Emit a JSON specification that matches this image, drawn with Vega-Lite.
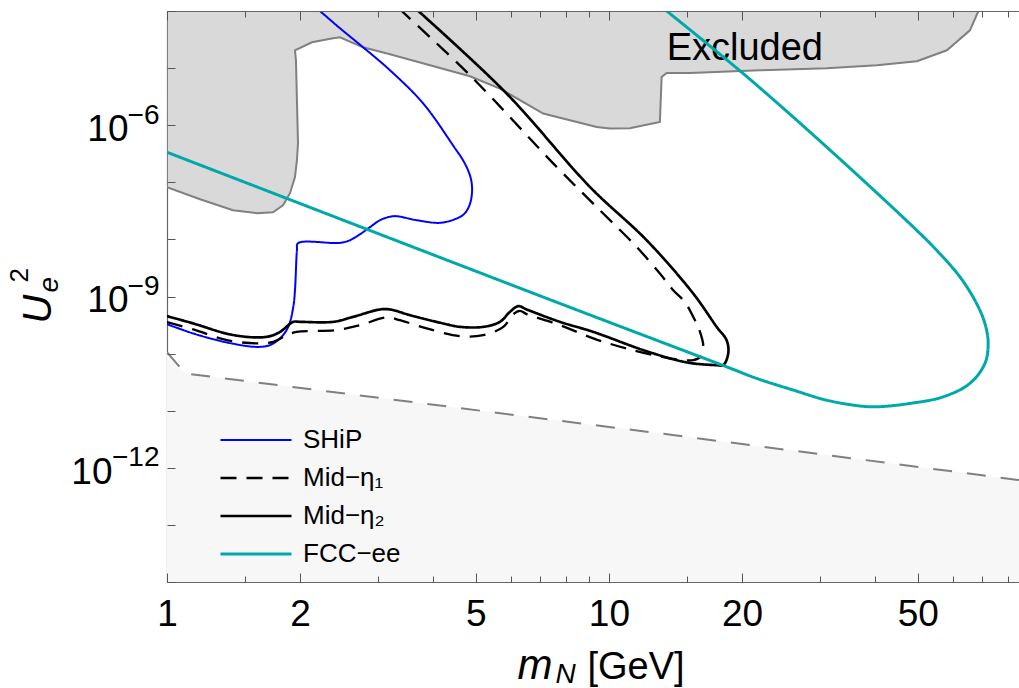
{
  "$schema": "https://vega.github.io/schema/vega-lite/v6.json",
  "autosize": {"type": "none"},
  "padding": {"left": 167, "top": 11, "right": 0, "bottom": 106},
  "width": 852,
  "height": 571,
  "background": "white",
  "config": {"view": {"stroke": null}, "font": "Liberation Sans"},
  "datasets": {
    "low": [
      {"m": 1, "u": 1.06e-10},
      {"m": 1.1, "u": 4.5e-11},
      {"m": 13.04, "u": 4.01e-12},
      {"m": 84.7, "u": 6.1e-13}
    ],
    "excl": [
      {"i": 0, "m": 1, "u": 1e-4},
      {"i": 1, "m": 1, "u": 8.2e-8},
      {"i": 2, "m": 1.188, "u": 5.06e-8},
      {"i": 3, "m": 1.41, "u": 3.24e-8},
      {"i": 4, "m": 1.598, "u": 2.88e-8},
      {"i": 5, "m": 1.737, "u": 2.99e-8},
      {"i": 6, "m": 1.83, "u": 3.97e-8},
      {"i": 7, "m": 1.898, "u": 6.44e-8},
      {"i": 8, "m": 1.948, "u": 1.23e-7},
      {"i": 9, "m": 1.968, "u": 2.44e-7},
      {"i": 10, "m": 1.979, "u": 4.83e-7},
      {"i": 11, "m": 1.968, "u": 2.74e-6},
      {"i": 12, "m": 1.958, "u": 1.37e-5},
      {"i": 13, "m": 1.948, "u": 2.05e-5},
      {"i": 14, "m": 2.128, "u": 2.83e-5},
      {"i": 15, "m": 2.375, "u": 3.33e-5},
      {"i": 16, "m": 2.463, "u": 3.47e-5},
      {"i": 17, "m": 2.777, "u": 2.31e-5},
      {"i": 18, "m": 3.196, "u": 1.75e-5},
      {"i": 19, "m": 4.848, "u": 7.19e-6},
      {"i": 20, "m": 5.667, "u": 4.38e-6},
      {"i": 21, "m": 7.102, "u": 1.6e-6},
      {"i": 22, "m": 9.38, "u": 9.33e-7},
      {"i": 23, "m": 10.05, "u": 8.75e-7},
      {"i": 24, "m": 11.15, "u": 8.85e-7},
      {"i": 25, "m": 13.04, "u": 1.14e-6},
      {"i": 26, "m": 13.16, "u": 7.0e-6},
      {"i": 27, "m": 13.51, "u": 8.22e-6},
      {"i": 28, "m": 15.26, "u": 8.22e-6},
      {"i": 29, "m": 21.96, "u": 9.16e-6},
      {"i": 30, "m": 31.12, "u": 9.93e-6},
      {"i": 31, "m": 40.4, "u": 1.12e-5},
      {"i": 32, "m": 49.76, "u": 1.32e-5},
      {"i": 33, "m": 58.18, "u": 2.05e-5},
      {"i": 34, "m": 65.58, "u": 4.59e-5},
      {"i": 35, "m": 68.37, "u": 9.48e-5},
      {"i": 36, "m": 68.7, "u": 1e-4}
    ],
    "curves": [
      {"s": "SHiP", "i": 0, "m": 1, "u": 3.28e-10},
      {"s": "SHiP", "i": 1, "m": 1.147, "u": 2.25e-10},
      {"s": "SHiP", "i": 2, "m": 1.365, "u": 1.57e-10},
      {"s": "SHiP", "i": 3, "m": 1.596, "u": 1.31e-10},
      {"s": "SHiP", "i": 4, "m": 1.71, "u": 1.41e-10},
      {"s": "SHiP", "i": 5, "m": 1.802, "u": 1.85e-10},
      {"s": "SHiP", "i": 6, "m": 1.881, "u": 2.94e-10},
      {"s": "SHiP", "i": 7, "m": 1.931, "u": 6.59e-10},
      {"s": "SHiP", "i": 8, "m": 1.948, "u": 1.29e-9},
      {"s": "SHiP", "i": 9, "m": 1.968, "u": 6.48e-9},
      {"s": "SHiP", "i": 10, "m": 1.979, "u": 8.59e-9},
      {"s": "SHiP", "i": 11, "m": 2.463, "u": 8.69e-9},
      {"s": "SHiP", "i": 12, "m": 2.594, "u": 9.68e-9},
      {"s": "SHiP", "i": 13, "m": 2.733, "u": 1.23e-8},
      {"s": "SHiP", "i": 14, "m": 2.88, "u": 1.64e-8},
      {"s": "SHiP", "i": 15, "m": 3.033, "u": 2.17e-8},
      {"s": "SHiP", "i": 16, "m": 3.196, "u": 2.5e-8},
      {"s": "SHiP", "i": 17, "m": 3.31, "u": 2.55e-8},
      {"s": "SHiP", "i": 18, "m": 3.672, "u": 2.17e-8},
      {"s": "SHiP", "i": 19, "m": 4.147, "u": 1.95e-8},
      {"s": "SHiP", "i": 20, "m": 4.483, "u": 2.26e-8},
      {"s": "SHiP", "i": 21, "m": 4.697, "u": 2.76e-8},
      {"s": "SHiP", "i": 22, "m": 4.836, "u": 3.97e-8},
      {"s": "SHiP", "i": 23, "m": 4.898, "u": 6.44e-8},
      {"s": "SHiP", "i": 24, "m": 4.885, "u": 1.04e-7},
      {"s": "SHiP", "i": 25, "m": 4.81, "u": 1.56e-7},
      {"s": "SHiP", "i": 26, "m": 4.675, "u": 2.44e-7},
      {"s": "SHiP", "i": 27, "m": 4.483, "u": 3.95e-7},
      {"s": "SHiP", "i": 28, "m": 3.802, "u": 2.39e-6},
      {"s": "SHiP", "i": 29, "m": 3.196, "u": 9.16e-6},
      {"s": "SHiP", "i": 30, "m": 2.777, "u": 2.32e-5},
      {"s": "SHiP", "i": 31, "m": 2.463, "u": 4.98e-5},
      {"s": "SHiP", "i": 32, "m": 2.219, "u": 1e-4},
      {"s": "Mid−η₁", "i": 0, "m": 1, "u": 3.56e-10},
      {"s": "Mid−η₁", "i": 1, "m": 1.147, "u": 2.65e-10},
      {"s": "Mid−η₁", "i": 2, "m": 1.365, "u": 1.72e-10},
      {"s": "Mid−η₁", "i": 3, "m": 1.596, "u": 1.51e-10},
      {"s": "Mid−η₁", "i": 4, "m": 1.74, "u": 1.61e-10},
      {"s": "Mid−η₁", "i": 5, "m": 1.865, "u": 2.1e-10},
      {"s": "Mid−η₁", "i": 6, "m": 1.965, "u": 2.4e-10},
      {"s": "Mid−η₁", "i": 7, "m": 2.42, "u": 2.58e-10},
      {"s": "Mid−η₁", "i": 8, "m": 2.733, "u": 3.15e-10},
      {"s": "Mid−η₁", "i": 9, "m": 3.142, "u": 4.3e-10},
      {"s": "Mid−η₁", "i": 10, "m": 3.366, "u": 3.85e-10},
      {"s": "Mid−η₁", "i": 11, "m": 3.869, "u": 2.76e-10},
      {"s": "Mid−η₁", "i": 12, "m": 4.602, "u": 2.02e-10},
      {"s": "Mid−η₁", "i": 13, "m": 5.195, "u": 2.1e-10},
      {"s": "Mid−η₁", "i": 14, "m": 5.767, "u": 2.94e-10},
      {"s": "Mid−η₁", "i": 15, "m": 6.075, "u": 4.91e-10},
      {"s": "Mid−η₁", "i": 16, "m": 6.29, "u": 5.61e-10},
      {"s": "Mid−η₁", "i": 17, "m": 6.513, "u": 4.91e-10},
      {"s": "Mid−η₁", "i": 18, "m": 7.746, "u": 3.15e-10},
      {"s": "Mid−η₁", "i": 19, "m": 9.215, "u": 1.85e-10},
      {"s": "Mid−η₁", "i": 20, "m": 10.96, "u": 1.23e-10},
      {"s": "Mid−η₁", "i": 21, "m": 14.23, "u": 7.91e-11},
      {"s": "Mid−η₁", "i": 22, "m": 15.51, "u": 7.69e-11},
      {"s": "Mid−η₁", "i": 23, "m": 16.07, "u": 8.67e-11},
      {"s": "Mid−η₁", "i": 24, "m": 16.35, "u": 1.31e-10},
      {"s": "Mid−η₁", "i": 25, "m": 15.92, "u": 2.94e-10},
      {"s": "Mid−η₁", "i": 26, "m": 15.51, "u": 4.41e-10},
      {"s": "Mid−η₁", "i": 27, "m": 14.86, "u": 7.96e-10},
      {"s": "Mid−η₁", "i": 28, "m": 13.98, "u": 1.29e-9},
      {"s": "Mid−η₁", "i": 29, "m": 13.04, "u": 2.53e-9},
      {"s": "Mid−η₁", "i": 30, "m": 11.55, "u": 7.4e-9},
      {"s": "Mid−η₁", "i": 31, "m": 9.707, "u": 2.84e-8},
      {"s": "Mid−η₁", "i": 32, "m": 7.615, "u": 1.86e-7},
      {"s": "Mid−η₁", "i": 33, "m": 4.848, "u": 7.48e-6},
      {"s": "Mid−η₁", "i": 34, "m": 3.396, "u": 1e-4},
      {"s": "Mid−η₂", "i": 0, "m": 1, "u": 4.53e-10},
      {"s": "Mid−η₂", "i": 1, "m": 1.147, "u": 3.37e-10},
      {"s": "Mid−η₂", "i": 2, "m": 1.388, "u": 2.17e-10},
      {"s": "Mid−η₂", "i": 3, "m": 1.596, "u": 1.92e-10},
      {"s": "Mid−η₂", "i": 4, "m": 1.71, "u": 2.02e-10},
      {"s": "Mid−η₂", "i": 5, "m": 1.802, "u": 2.4e-10},
      {"s": "Mid−η₂", "i": 6, "m": 1.931, "u": 3.6e-10},
      {"s": "Mid−η₂", "i": 7, "m": 2.0, "u": 3.6e-10},
      {"s": "Mid−η₂", "i": 8, "m": 2.378, "u": 3.6e-10},
      {"s": "Mid−η₂", "i": 9, "m": 2.64, "u": 4.41e-10},
      {"s": "Mid−η₂", "i": 10, "m": 3.033, "u": 5.93e-10},
      {"s": "Mid−η₂", "i": 11, "m": 3.196, "u": 5.93e-10},
      {"s": "Mid−η₂", "i": 12, "m": 3.546, "u": 4.72e-10},
      {"s": "Mid−η₂", "i": 13, "m": 4.219, "u": 3.37e-10},
      {"s": "Mid−η₂", "i": 14, "m": 4.602, "u": 2.94e-10},
      {"s": "Mid−η₂", "i": 15, "m": 5.195, "u": 2.94e-10},
      {"s": "Mid−η₂", "i": 16, "m": 5.667, "u": 3.6e-10},
      {"s": "Mid−η₂", "i": 17, "m": 5.97, "u": 5.38e-10},
      {"s": "Mid−η₂", "i": 18, "m": 6.234, "u": 6.78e-10},
      {"s": "Mid−η₂", "i": 19, "m": 6.513, "u": 5.93e-10},
      {"s": "Mid−η₂", "i": 20, "m": 7.746, "u": 3.6e-10},
      {"s": "Mid−η₂", "i": 21, "m": 9.215, "u": 2.4e-10},
      {"s": "Mid−η₂", "i": 22, "m": 11.96, "u": 1.15e-10},
      {"s": "Mid−η₂", "i": 23, "m": 14.23, "u": 7.69e-11},
      {"s": "Mid−η₂", "i": 24, "m": 15.51, "u": 6.73e-11},
      {"s": "Mid−η₂", "i": 25, "m": 17.53, "u": 6.28e-11},
      {"s": "Mid−η₂", "i": 26, "m": 18.14, "u": 6.28e-11},
      {"s": "Mid−η₂", "i": 27, "m": 18.62, "u": 1.01e-10},
      {"s": "Mid−η₂", "i": 28, "m": 18.46, "u": 1.72e-10},
      {"s": "Mid−η₂", "i": 29, "m": 17.53, "u": 2.94e-10},
      {"s": "Mid−η₂", "i": 30, "m": 15.51, "u": 1.13e-9},
      {"s": "Mid−η₂", "i": 31, "m": 12.17, "u": 9.68e-9},
      {"s": "Mid−η₂", "i": 32, "m": 9.057, "u": 8.3e-8},
      {"s": "Mid−η₂", "i": 33, "m": 5.869, "u": 3.58e-6},
      {"s": "Mid−η₂", "i": 34, "m": 3.704, "u": 1e-4},
      {"s": "FCC−ee", "i": 0, "m": 1, "u": 3.36e-7},
      {"s": "FCC−ee", "i": 1, "m": 7.746, "u": 7.55e-10},
      {"s": "FCC−ee", "i": 2, "m": 18.46, "u": 5.87e-11},
      {"s": "FCC−ee", "i": 3, "m": 21.59, "u": 3.68e-11},
      {"s": "FCC−ee", "i": 4, "m": 26.12, "u": 2.3e-11},
      {"s": "FCC−ee", "i": 5, "m": 31.08, "u": 1.53e-11},
      {"s": "FCC−ee", "i": 6, "m": 36.98, "u": 1.21e-11},
      {"s": "FCC−ee", "i": 7, "m": 40.35, "u": 1.17e-11},
      {"s": "FCC−ee", "i": 8, "m": 47.98, "u": 1.34e-11},
      {"s": "FCC−ee", "i": 9, "m": 57.06, "u": 1.75e-11},
      {"s": "FCC−ee", "i": 10, "m": 65.58, "u": 3.01e-11},
      {"s": "FCC−ee", "i": 11, "m": 70.92, "u": 6.73e-11},
      {"s": "FCC−ee", "i": 12, "m": 72.13, "u": 1.51e-10},
      {"s": "FCC−ee", "i": 13, "m": 70.92, "u": 3.37e-10},
      {"s": "FCC−ee", "i": 14, "m": 67.91, "u": 7.55e-10},
      {"s": "FCC−ee", "i": 15, "m": 62.25, "u": 2.21e-9},
      {"s": "FCC−ee", "i": 16, "m": 55.13, "u": 6.47e-9},
      {"s": "FCC−ee", "i": 17, "m": 49.68, "u": 1.45e-8},
      {"s": "FCC−ee", "i": 18, "m": 31.08, "u": 4.16e-7},
      {"s": "FCC−ee", "i": 19, "m": 20.13, "u": 8.02e-6},
      {"s": "FCC−ee", "i": 20, "m": 13.51, "u": 1e-4}
    ],
    "labels": [
      {"m": 13.51, "u": 1.37e-5, "label": "Excluded"}
    ]
  },
  "resolve": {"axis": {"x": "independent", "y": "independent"}},
  "layer": [
    {
      "data": {"name": "low"},
      "mark": {"type": "area", "color": "#f7f7f7", "clip": true},
      "encoding": {
        "x": {
          "field": "m", "type": "quantitative",
          "scale": {"type": "log", "domain": [1, 84.7], "nice": false},
          "axis": {
            "orient": "bottom", "values": [1, 2, 5, 10, 20, 50], "format": "~g",
            "ticks": false, "domain": true, "domainColor": "#666666", "domainWidth": 1.2,
            "grid": false, "labelFontSize": 37, "labelFont": "Liberation Sans", "labelColor": "black",
            "labelPadding": 43, "labelBaseline": "alphabetic", "labelFlush": false, "labelOverlap": false,
            "title": "m", "titleFont": "Liberation Sans", "titleFontSize": 42, "titleFontStyle": "italic",
            "titleFontWeight": "normal", "titleColor": "black", "titleX": 350, "titleY": 96,
            "titleAlign": "left", "titleBaseline": "alphabetic", "titleAngle": 0
          }
        },
        "y": {
          "field": "u", "type": "quantitative",
          "scale": {"type": "log", "domain": [1e-14, 1e-4], "nice": false},
          "axis": {
            "orient": "left", "values": [1e-6, 1e-9], "labelExpr": "'10'",
            "ticks": false, "domain": true, "domainColor": "#666666", "domainWidth": 1.2,
            "grid": false, "labelFontSize": 37, "labelFont": "Liberation Sans", "labelColor": "black",
            "labelPadding": 39, "labelBaseline": "alphabetic", "labelOffset": 15, "labelAlign": "right",
            "labelFlush": false, "labelOverlap": false,
            "title": "U", "titleFont": "Liberation Sans", "titleFontSize": 40, "titleFontStyle": "italic",
            "titleFontWeight": "normal", "titleColor": "black", "titleX": -117, "titleY": 312,
            "titleAlign": "left", "titleBaseline": "alphabetic", "titleAngle": 270
          }
        },
        "y2": {"datum": 1e-14}
      }
    },
    {
      "data": {"name": "low"},
      "mark": {"type": "line", "color": "#808080", "strokeWidth": 2, "strokeDash": [19, 15], "clip": true},
      "encoding": {
        "x": {
          "field": "m", "type": "quantitative",
          "scale": {"type": "log", "domain": [1, 84.7], "nice": false},
          "axis": {
            "orient": "bottom", "values": [1, 2, 5, 10, 20, 50], "labels": false, "domain": false,
            "grid": false, "ticks": true, "tickSize": -9, "tickColor": "#555555", "tickWidth": 1, "zindex": 1,
            "title": "N", "titleFont": "Liberation Sans", "titleFontSize": 28, "titleFontStyle": "italic",
            "titleFontWeight": "normal", "titleColor": "black", "titleX": 388, "titleY": 100,
            "titleAlign": "left", "titleBaseline": "alphabetic", "titleAngle": 0
          }
        },
        "y": {
          "field": "u", "type": "quantitative",
          "scale": {"type": "log", "domain": [1e-14, 1e-4], "nice": false},
          "axis": {
            "orient": "left", "values": [1e-6, 1e-9, 1e-12],
            "labelExpr": "datum.value < 1e-11 ? '−12' : (datum.value < 1e-8 ? '−9' : '−6')",
            "ticks": false, "domain": false, "grid": false,
            "labelFontSize": 28, "labelFont": "Liberation Sans", "labelColor": "black",
            "labelPadding": 8, "labelBaseline": "alphabetic", "labelOffset": -2, "labelAlign": "right",
            "labelFlush": false, "labelOverlap": false,
            "title": "e", "titleFont": "Liberation Sans", "titleFontSize": 28, "titleFontStyle": "italic",
            "titleFontWeight": "normal", "titleColor": "black", "titleX": -110, "titleY": 281,
            "titleAlign": "left", "titleBaseline": "alphabetic", "titleAngle": 270
          }
        }
      }
    },
    {
      "data": {"name": "excl"},
      "mark": {"type": "line", "fill": "#d9d9d9", "stroke": "#808080", "strokeWidth": 2, "clip": true},
      "encoding": {
        "x": {
          "field": "m", "type": "quantitative",
          "scale": {"type": "log", "domain": [1, 84.7], "nice": false},
          "axis": {
            "orient": "bottom", "values": [1.5, 3, 4, 6, 7, 8, 9, 15, 30, 40, 60, 70, 80],
            "labels": false, "domain": false, "grid": false, "ticks": true, "tickSize": -6,
            "tickColor": "#555555", "tickWidth": 1, "zindex": 1,
            "title": "[GeV]", "titleFont": "Liberation Sans", "titleFontSize": 38, "titleFontStyle": "normal",
            "titleFontWeight": "normal", "titleColor": "black", "titleX": 420, "titleY": 96,
            "titleAlign": "left", "titleBaseline": "alphabetic", "titleAngle": 0
          }
        },
        "y": {
          "field": "u", "type": "quantitative",
          "scale": {"type": "log", "domain": [1e-14, 1e-4], "nice": false},
          "axis": {
            "orient": "left", "values": [1e-14, 1e-13, 1e-12, 1e-11, 1e-10, 1e-9, 1e-8, 1e-7, 1e-6, 1e-5, 1e-4],
            "labels": false, "domain": false, "grid": false, "ticks": true, "tickSize": -8,
            "tickColor": "#555555", "tickWidth": 1, "zindex": 1,
            "title": "2", "titleFont": "Liberation Sans", "titleFontSize": 26, "titleFontStyle": "normal",
            "titleFontWeight": "normal", "titleColor": "black", "titleX": -140, "titleY": 271,
            "titleAlign": "left", "titleBaseline": "alphabetic", "titleAngle": 270
          }
        },
        "order": {"field": "i", "type": "quantitative"}
      }
    },
    {
      "data": {"name": "labels"},
      "mark": {"type": "text", "align": "left", "baseline": "alphabetic", "fontSize": 38, "font": "Liberation Sans", "color": "black"},
      "encoding": {
        "x": {
          "field": "m", "type": "quantitative",
          "scale": {"type": "log", "domain": [1, 84.7], "nice": false},
          "axis": {
            "orient": "top", "values": [1, 2, 5, 10, 20, 50], "labels": false, "domain": true,
            "domainColor": "#666666", "domainWidth": 1.2, "grid": false, "ticks": true, "tickSize": -9,
            "tickColor": "#555555", "tickWidth": 1, "zindex": 1, "title": null
          }
        },
        "y": {
          "field": "u", "type": "quantitative",
          "scale": {"type": "log", "domain": [1e-14, 1e-4], "nice": false},
          "axis": {
            "orient": "left", "values": [1e-12], "labelExpr": "'10'",
            "ticks": false, "domain": false, "grid": false,
            "labelFontSize": 37, "labelFont": "Liberation Sans", "labelColor": "black",
            "labelPadding": 55, "labelBaseline": "alphabetic", "labelOffset": 15.6, "labelAlign": "right",
            "labelFlush": false, "labelOverlap": false, "title": null
          }
        },
        "text": {"field": "label"}
      }
    },
    {
      "data": {"name": "curves"},
      "mark": {"type": "line", "interpolate": "catmull-rom", "clip": true},
      "encoding": {
        "x": {
          "field": "m", "type": "quantitative",
          "scale": {"type": "log", "domain": [1, 84.7], "nice": false},
          "axis": {
            "orient": "top", "values": [1.5, 3, 4, 6, 7, 8, 9, 15, 30, 40, 60, 70, 80],
            "labels": false, "domain": false, "grid": false, "ticks": true, "tickSize": -6,
            "tickColor": "#555555", "tickWidth": 1, "zindex": 1, "title": null
          }
        },
        "y": {
          "field": "u", "type": "quantitative",
          "scale": {"type": "log", "domain": [1e-14, 1e-4], "nice": false},
          "axis": null
        },
        "color": {
          "field": "s", "type": "nominal",
          "scale": {"domain": ["SHiP", "Mid−η₁", "Mid−η₂", "FCC−ee"], "range": ["#0000ff", "#000000", "#000000", "#00a9a9"]},
          "legend": {"orient": "none", "legendX": 52, "legendY": 414, "title": null, "symbolType": "stroke", "symbolSize": 5041, "clipHeight": 30, "rowPadding": 8, "padding": 0, "labelFontSize": 26, "labelFont": "Liberation Sans", "labelColor": "black", "labelOffset": 10, "labelLimit": 400}
        },
        "strokeDash": {
          "field": "s", "type": "nominal",
          "scale": {"domain": ["SHiP", "Mid−η₁", "Mid−η₂", "FCC−ee"], "range": [[1, 0], [16, 10], [1, 0], [1, 0]]},
          "legend": {"orient": "none", "legendX": 52, "legendY": 414, "title": null, "symbolType": "stroke", "symbolSize": 5041, "clipHeight": 30, "rowPadding": 8, "padding": 0, "labelFontSize": 26, "labelFont": "Liberation Sans", "labelColor": "black", "labelOffset": 10, "labelLimit": 400}
        },
        "strokeWidth": {
          "field": "s", "type": "ordinal",
          "scale": {"domain": ["SHiP", "Mid−η₁", "Mid−η₂", "FCC−ee"], "range": [2, 3, 3, 3]},
          "legend": {"orient": "none", "legendX": 52, "legendY": 414, "title": null, "symbolType": "stroke", "symbolSize": 5041, "clipHeight": 30, "rowPadding": 8, "padding": 0, "labelFontSize": 26, "labelFont": "Liberation Sans", "labelColor": "black", "labelOffset": 10, "labelLimit": 400}
        },
        "order": {"field": "i", "type": "quantitative"}
      }
    }
  ]
}
